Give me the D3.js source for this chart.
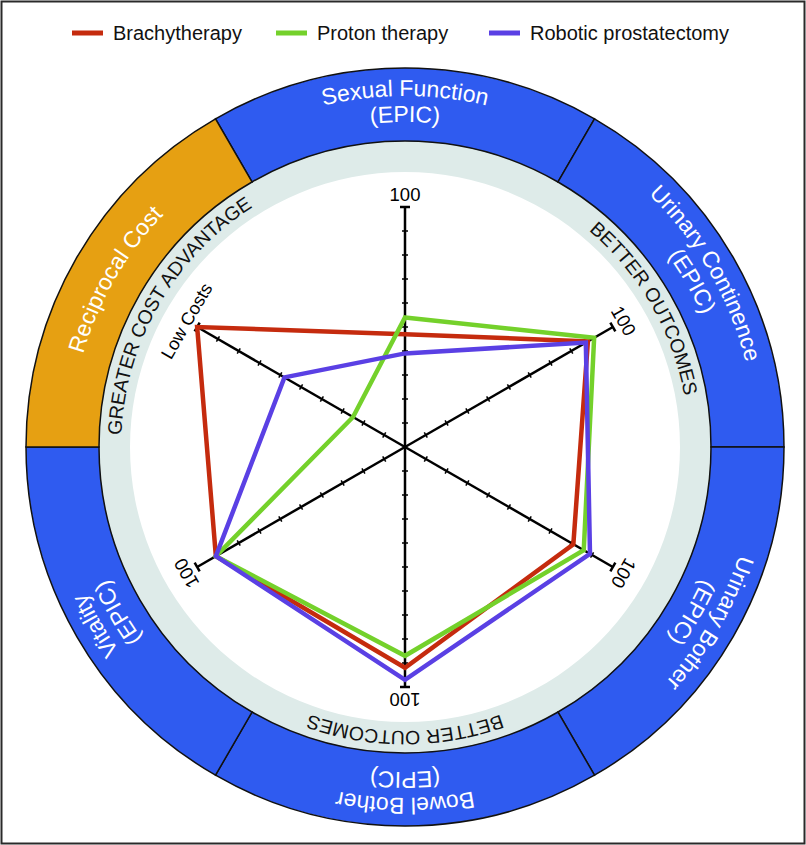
<!DOCTYPE html>
<html>
<head>
<meta charset="utf-8">
<script src="https://cdn.jsdelivr.net/npm/d3@7"></script>
<style>
  body { margin: 0; background: #fff; }
  svg { display: block; font-family: "Liberation Sans", Arial, sans-serif; }
</style>
</head>
<body>
<svg id="chart" width="806" height="845"></svg>
<script>
// axes, clockwise from the top
const axes = ["Sexual Function", "Urinary Continence", "Urinary Bother", "Bowel Bother", "Vitality", "Reciprocal Cost"];
const ringLabels = [
  ["Sexual Function", "(EPIC)"],
  ["Urinary Continence", "(EPIC)"],
  ["Urinary Bother", "(EPIC)"],
  ["Bowel Bother", "(EPIC)"],
  ["Vitality", "(EPIC)"],
  ["Reciprocal Cost"]
];
const axisEndLabels = ["100", "100", "100", "100", "100", "Low Costs"];
const bandLabels = [
  {axis: 1, text: "BETTER OUTCOMES"},
  {axis: 3, text: "BETTER OUTCOMES"},
  {axis: 5, text: "GREATER COST ADVANTAGE"}
];

const seriesNames = ["Brachytherapy", "Proton therapy", "Robotic prostatectomy"];
const seriesColors = ["#c52b0e", "#74d12b", "#5a40e4"];
const brachytherapy = [47, 88, 81, 92, 91, 100];
const protonTherapy = [54, 91, 86, 87, 91, 25];
const roboticProstatectomy = [39, 87, 89, 97, 91, 58];
const series = [brachytherapy, protonTherapy, roboticProstatectomy];

const tickValues = d3.range(10, 100, 10);

const svg = d3.select("#chart");
const cx = 405, cy = 447;
const outerR = 379, ringInner = 306, bandInner = 275;

const r = d3.scaleLinear().domain([0, 100]).range([0, 240]);
const angle = d3.scaleLinear().domain([0, axes.length]).range([0, 2 * Math.PI]);
const deg = i => angle(i) * 180 / Math.PI;

// frame
svg.append("rect")
  .attr("x", 1.5).attr("y", 1.5)
  .attr("width", 803).attr("height", 842)
  .attr("fill", "none")
  .attr("stroke", "#2a2a2a")
  .attr("stroke-width", 2);

// legend
const legendX = [72, 276, 489];
const legend = svg.append("g").attr("class", "legend")
  .selectAll("g")
  .data(seriesNames)
  .enter()
  .append("g")
  .attr("transform", (d, i) => `translate(${legendX[i]},33)`);
legend.append("rect")
  .attr("x", 0).attr("y", -2.5)
  .attr("width", 31).attr("height", 5)
  .attr("fill", (d, i) => seriesColors[i]);
legend.append("text")
  .attr("x", 41).attr("y", 6.5)
  .attr("font-size", 20)
  .attr("fill", "#111")
  .text(d => d);

const g = svg.append("g").attr("transform", `translate(${cx},${cy})`);

// grey band
g.append("path")
  .attr("d", d3.arc().innerRadius(bandInner).outerRadius(ringInner).startAngle(0).endAngle(2 * Math.PI)())
  .attr("fill", "#deebe9");

// outer ring segments
const half = Math.PI / axes.length;
const ringArc = d3.arc()
  .innerRadius(ringInner)
  .outerRadius(outerR)
  .startAngle((d, i) => angle(i) - half)
  .endAngle((d, i) => angle(i) + half);

g.append("g").attr("class", "ring")
  .selectAll("path")
  .data(axes)
  .enter()
  .append("path")
  .attr("d", ringArc)
  .attr("fill", d => d === "Reciprocal Cost" ? "#e6a012" : "#2f5bf0")
  .attr("stroke", "#111")
  .attr("stroke-width", 1.5);

// clockwise arc used as a text path, centred on angle a
function arcPath(a, rr) {
  const a0 = a - Math.PI / 2, a1 = a + Math.PI / 2;
  return `M${rr * Math.sin(a0)},${-rr * Math.cos(a0)} A${rr},${rr} 0 0 1 ${rr * Math.sin(a1)},${-rr * Math.cos(a1)}`;
}

const defs = svg.append("defs");

ringLabels.forEach((lines, i) => {
  const radii = lines.length === 2 ? [351, 325] : [335];
  lines.forEach((line, j) => {
    const id = `ring-${i}-${j}`;
    defs.append("path").attr("id", id).attr("d", arcPath(angle(i), radii[j]));
    g.append("text")
      .attr("font-size", 23)
      .attr("fill", "#fff")
      .append("textPath")
      .attr("href", `#${id}`)
      .attr("startOffset", "50%")
      .attr("text-anchor", "middle")
      .text(line);
  });
});

bandLabels.forEach((d, i) => {
  const id = `band-${i}`;
  defs.append("path").attr("id", id).attr("d", arcPath(angle(d.axis), 284));
  g.append("text")
    .attr("font-size", 19.5)
    .attr("fill", "#111")
    .append("textPath")
    .attr("href", `#${id}`)
    .attr("startOffset", "50%")
    .attr("text-anchor", "middle")
    .text(d.text);
});

// axes with ticks
const axis = g.append("g").attr("class", "axes")
  .selectAll("g")
  .data(axes)
  .enter()
  .append("g")
  .attr("transform", (d, i) => `rotate(${deg(i)})`);

axis.append("line")
  .attr("x1", 0).attr("y1", 0)
  .attr("x2", 0).attr("y2", -r(100))
  .attr("stroke", "#000")
  .attr("stroke-width", 2.5);

axis.selectAll(".tick")
  .data(tickValues)
  .enter()
  .append("line")
  .attr("class", "tick")
  .attr("x1", -3).attr("x2", 3)
  .attr("y1", v => -r(v)).attr("y2", v => -r(v))
  .attr("stroke", "#000")
  .attr("stroke-width", 1.5);

axis.append("line")
  .attr("x1", -5).attr("x2", 5)
  .attr("y1", -r(100)).attr("y2", -r(100))
  .attr("stroke", "#000")
  .attr("stroke-width", 2.5);

axis.append("text")
  .attr("x", 0).attr("y", -r(100) - 6)
  .attr("text-anchor", "middle")
  .attr("font-size", (d, i) => axisEndLabels[i] === "100" ? 18.5 : 18)
  .attr("fill", "#000")
  .text((d, i) => axisEndLabels[i]);

// radar polygons
const radar = d3.lineRadial()
  .angle((d, i) => angle(i))
  .radius(d => r(d))
  .curve(d3.curveLinearClosed);

g.append("g").attr("class", "series")
  .selectAll("path")
  .data(series)
  .enter()
  .append("path")
  .attr("d", radar)
  .attr("fill", "none")
  .attr("stroke", (d, i) => seriesColors[i])
  .attr("stroke-width", 4.5)
  .attr("stroke-linejoin", "miter");
</script>
</body>
</html>
